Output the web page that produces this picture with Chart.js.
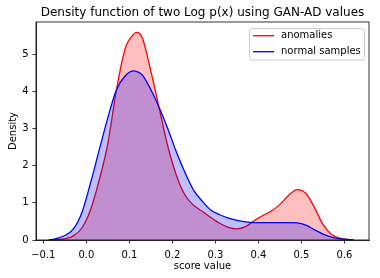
<!DOCTYPE html>
<html><head><meta charset="utf-8">
<script src="https://cdn.jsdelivr.net/npm/chart.js@4"></script>
<style>html,body{margin:0;padding:0;background:#fff;}#wrap{width:380px;height:278px;}</style>
</head><body><div id="wrap"><canvas id="c" width="380" height="278"></canvas></div>
<script>
const scoreValues = [-0.087,-0.07,-0.05,-0.03,-0.01,0.01,0.03,0.05,0.07,0.09,0.11,0.118,0.13,0.15,0.17,0.19,0.21,0.23,0.25,0.27,0.29,0.31,0.33,0.35,0.37,0.39,0.41,0.43,0.45,0.47,0.49,0.51,0.53,0.55,0.57,0.59,0.61,0.621];
const anomalies = [0,0.01,0.03,0.11,0.33,0.82,1.62,2.6,4.05,5.15,5.55,5.596,5.45,4.55,3.52,2.5,1.72,1.2,0.93,0.77,0.6,0.45,0.34,0.3,0.36,0.52,0.66,0.78,0.96,1.2,1.36,1.26,0.88,0.42,0.15,0.05,0.01,0];
const normalSamples = [0,0.04,0.12,0.3,0.75,1.55,2.43,3.3,4.05,4.42,4.56,4.54,4.45,4.05,3.55,2.98,2.35,1.8,1.33,1.04,0.8,0.68,0.59,0.53,0.49,0.47,0.47,0.47,0.47,0.47,0.46,0.4,0.28,0.16,0.08,0.03,0.01,0];
const seriesLabels = ['anomalies','normal samples'];
const chartTitle = 'Density function of two Log p(x) using GAN-AD values';
const xTickValues = [-0.1,0,0.1,0.2,0.3,0.4,0.5,0.6];
const xTickLabels = ['\u22120.1','0.0','0.1','0.2','0.3','0.4','0.5','0.6'];
const yTickValues = [0,1,2,3,4,5];

const FONT = "'DejaVu Sans', sans-serif";

const frameAndLegend = {
  id: 'frameAndLegend',
  afterDraw(chart) {
    const ctx = chart.ctx, a = chart.chartArea;
    ctx.save();
    // title centred over the plot area
    ctx.fillStyle = '#000'; ctx.font = '12px ' + FONT; ctx.textAlign = 'center'; ctx.textBaseline = 'middle';
    ctx.fillText(chartTitle, (a.left + a.right) / 2, 12.7);
    ctx.strokeStyle = '#000'; ctx.lineWidth = 0.8;
    ctx.strokeRect(a.left, a.top, a.right - a.left, a.bottom - a.top);
    // legend box
    const bx = 249.5, by = 28.5, bw = 115, bh = 31.5, r = 2.5;
    ctx.beginPath();
    ctx.moveTo(bx + r, by); ctx.lineTo(bx + bw - r, by); ctx.quadraticCurveTo(bx + bw, by, bx + bw, by + r);
    ctx.lineTo(bx + bw, by + bh - r); ctx.quadraticCurveTo(bx + bw, by + bh, bx + bw - r, by + bh);
    ctx.lineTo(bx + r, by + bh); ctx.quadraticCurveTo(bx, by + bh, bx, by + bh - r);
    ctx.lineTo(bx, by + r); ctx.quadraticCurveTo(bx, by, bx + r, by);
    ctx.closePath();
    ctx.fillStyle = 'rgba(255,255,255,0.8)'; ctx.fill();
    ctx.strokeStyle = '#cccccc'; ctx.lineWidth = 1; ctx.stroke();
    ctx.font = '10px ' + FONT; ctx.textBaseline = 'middle'; ctx.textAlign = 'left';
    chart.data.datasets.forEach((ds, i) => {
      const y = 35.7 + i * 16;
      ctx.strokeStyle = ds.borderColor; ctx.lineWidth = 1.3;
      ctx.beginPath(); ctx.moveTo(253, y); ctx.lineTo(274, y); ctx.stroke();
      ctx.fillStyle = '#000'; ctx.fillText(ds.label, 281, y);
    });
    ctx.restore();
  }
};

new Chart(document.getElementById('c'), {
  type: 'line',
  data: {
    datasets: [
      { label: seriesLabels[0], data: scoreValues.map((x, i) => ({x, y: anomalies[i]})),
        borderColor: '#ff0000', backgroundColor: 'rgba(255,0,0,0.25)', fill: 'origin', order: 2 },
      { label: seriesLabels[1], data: scoreValues.map((x, i) => ({x, y: normalSamples[i]})),
        borderColor: '#0000ff', backgroundColor: 'rgba(0,0,255,0.25)', fill: 'origin', order: 1 }
    ]
  },
  options: {
    responsive: false, animation: false, devicePixelRatio: 1,
    layout: { padding: { left: 0, right: 11, top: 22, bottom: 0 } },
    elements: { point: { radius: 0 }, line: { borderWidth: 1.3, cubicInterpolationMode: 'monotone' } },
    plugins: {
      legend: { display: false }, tooltip: { enabled: false }, title: { display: false }
    },
    scales: {
      x: { type: 'linear', min: -0.117, max: 0.657,
        afterFit(s) { s.height = 38; },
        afterBuildTicks(s) { s.ticks = xTickValues.map(v => ({ value: v })); },
        ticks: { color: '#000', font: { family: FONT, size: 10 }, padding: 6, maxRotation: 0, autoSkip: false,
          callback: (v) => { const i = xTickValues.findIndex(t => Math.abs(t - v) < 1e-9); return i >= 0 ? xTickLabels[i] : ''; } },
        grid: { display: true, drawOnChartArea: false, drawTicks: true, tickLength: 3.5, color: '#000', lineWidth: 0.8 },
        border: { display: true, color: '#000', width: 0.8 },
        title: { display: true, text: 'score value', color: '#000', font: { family: FONT, size: 10 }, padding: { top: 0, bottom: 5.3 } }
      },
      y: { type: 'linear', min: 0, max: 5.876,
        afterFit(s) { s.width = 36; },
        afterBuildTicks(s) { s.ticks = yTickValues.map(v => ({ value: v })); },
        ticks: { color: '#000', font: { family: FONT, size: 10 }, padding: 4, autoSkip: false, callback: (v) => String(v) },
        grid: { display: true, drawOnChartArea: false, drawTicks: true, tickLength: 3.5, color: '#000', lineWidth: 0.8 },
        border: { display: true, color: '#000', width: 0.8 },
        title: { display: true, text: 'Density', color: '#000', font: { family: FONT, size: 10 }, padding: { top: 7, bottom: 0 } }
      }
    }
  },
  plugins: [frameAndLegend]
});
</script></body></html>
